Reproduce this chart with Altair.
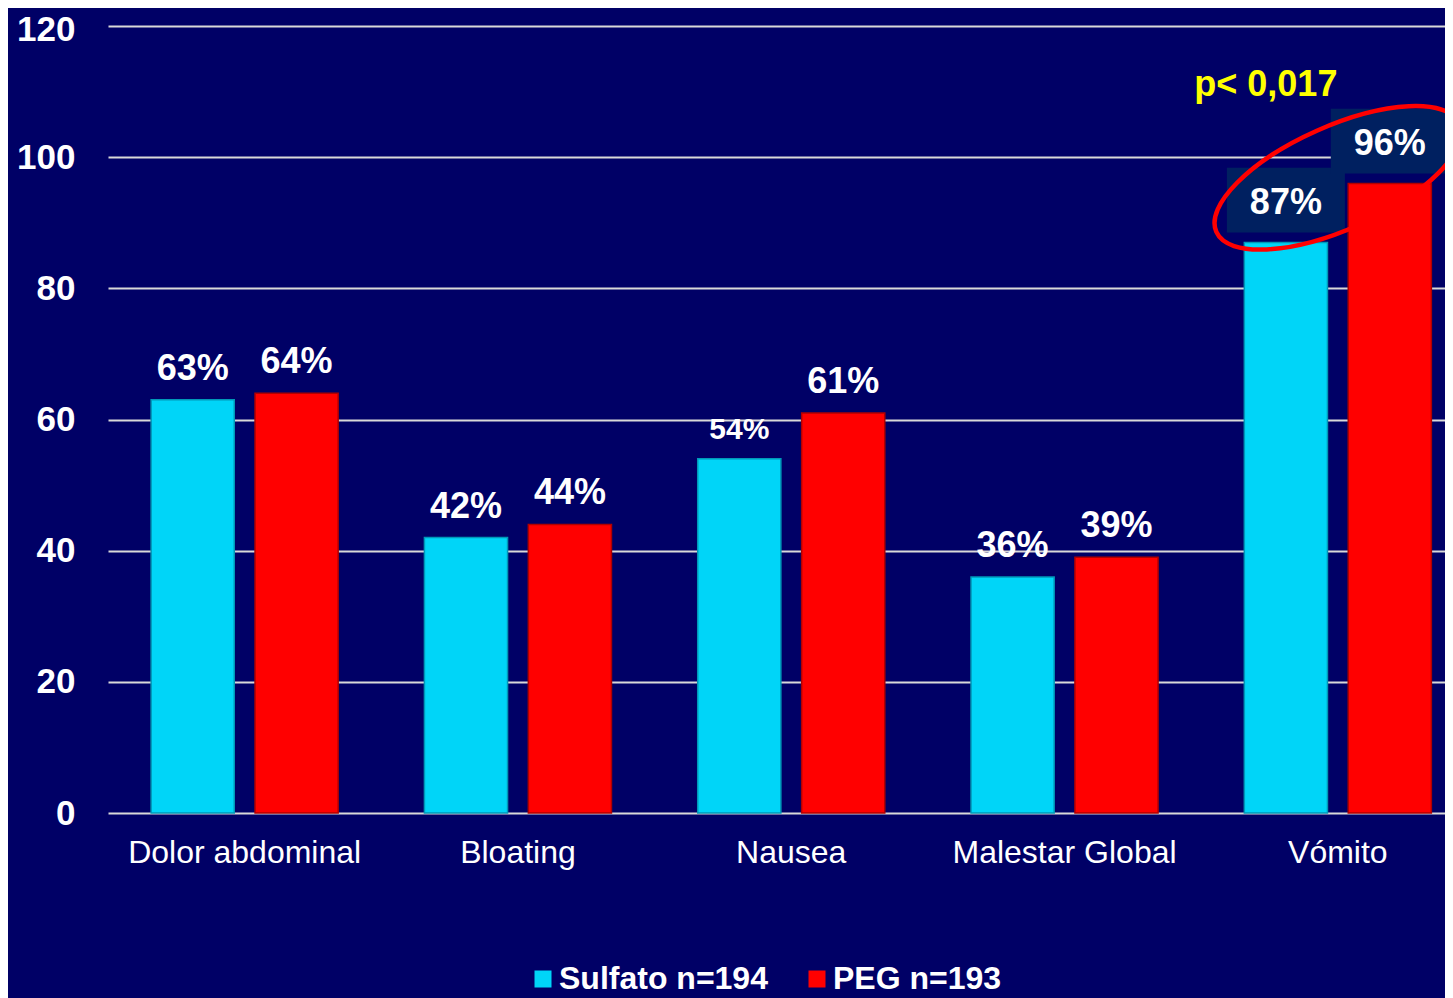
import altair as alt
import pandas as pd

categories = ["Dolor abdominal", "Bloating", "Nausea", "Malestar Global", "Vómito"]
series = ["Sulfato n=194", "PEG n=193"]
sulfato = [63, 42, 54, 36, 87]
peg = [64, 44, 61, 39, 96]
y_ticks = [0, 20, 40, 60, 80, 100, 120]
p_label = "p< 0,017"
highlight_cat = "Vómito"
small_label = ("Nausea", "Sulfato n=194")

rows = []
for c, s, p in zip(categories, sulfato, peg):
    rows.append({"cat": c, "serie": series[0], "value": s})
    rows.append({"cat": c, "serie": series[1], "value": p})
df = pd.DataFrame(rows)
ann = pd.DataFrame({"cat": [highlight_cat], "label": [p_label]})

FONT = "Liberation Sans"
BG = "#000066"
W, H = 1337, 787
GROUP = 273.3

x = alt.X(
    "cat:N",
    sort=categories,
    scale=alt.Scale(domain=categories, range=[0, GROUP * 5], paddingInner=0, paddingOuter=0),
    axis=alt.Axis(
        title=None, labelFontSize=32, labelFont=FONT, labelColor="white", labelAngle=0,
        ticks=False, tickSize=0, domain=False, labelPadding=49, labelBaseline="alphabetic",
        grid=False, labelLimit=0,
    ),
)
xo = alt.XOffset(
    "serie:N", sort=series,
    scale=alt.Scale(domain=series, paddingInner=0.2, paddingOuter=0.415),
)
yscale = alt.Scale(domain=[0, 120], nice=False)
yaxis = alt.Axis(
    values=y_ticks, title=None, labelFontSize=35, labelFontWeight="bold", labelFont=FONT,
    labelColor="white", ticks=False, tickSize=0, domain=False, labelPadding=33,
    labelOffset={"expr": "datum.value == 120 ? 3 : 0"},
    grid=True, gridColor="#D9D9D9", gridWidth=2, gridOpacity=1,
)


def Y(field):
    return alt.Y(field, scale=yscale, axis=yaxis)


color = alt.Color(
    "serie:N", sort=series,
    scale=alt.Scale(domain=series, range=["#00D5F8", "#FF0000"]),
    legend=alt.Legend(
        title=None, orient="none", legendX=419, legendY=937, direction="horizontal",
        symbolType="square", symbolSize=289, symbolStrokeWidth=0, symbolOpacity=1,
        labelFontSize=32, labelFontWeight="bold", labelColor="white", labelFont=FONT,
        columnPadding=33, labelOffset=0, labelLimit=0,
    ),
)
stroke = alt.Stroke(
    "serie:N", sort=series,
    scale=alt.Scale(domain=series, range=["#0098B8", "#B00000"]),
    legend=None,
)

base = alt.Chart(df).transform_calculate(lab="datum.value + '%'")

bars = base.mark_bar(strokeWidth=1.5).encode(
    x=x, xOffset=xo, y=Y("value:Q"), color=color, stroke=stroke
)

labels = base.transform_filter(f"datum.cat != '{highlight_cat}'").mark_text(
    baseline="alphabetic", dy=-20, fontWeight="bold", color="white", font=FONT
).encode(
    x=x, xOffset=xo, y=Y("value:Q"), text="lab:N",
    size=alt.condition(
        f"datum.cat == '{small_label[0]}' && datum.serie == '{small_label[1]}'",
        alt.value(30), alt.value(36),
    ),
)

boxes = base.transform_filter(f"datum.cat == '{highlight_cat}'").transform_calculate(
    lo="datum.value + 1.5", hi="datum.value + 11.4"
).mark_bar(width=118, color="#002060").encode(
    x=x, xOffset=xo, y=Y("lo:Q"), y2="hi:Q"
)

vlabels = base.transform_filter(f"datum.cat == '{highlight_cat}'").mark_text(
    baseline="alphabetic", dy=-28, fontWeight="bold", color="white", font=FONT, fontSize=36
).encode(x=x, xOffset=xo, y=Y("value:Q"), text="lab:N")

ellipse_path = "M -1 0 A 1 0.388 0 1 1 1 0 A 1 0.388 0 1 1 -1 0 Z"
ann2 = alt.Chart(ann).transform_calculate(ey="96.85", py="111")
ellipse = ann2.mark_point(
    shape=ellipse_path, size=70756, angle=336, filled=False, color="#FF0000",
    strokeWidth=4.5, opacity=1, dx=-16,
).encode(x=x, y=Y("ey:Q"))

ptext = ann2.mark_text(
    color="#FFFF00", fontSize=36, fontWeight="bold", font=FONT, dx=-72, baseline="middle"
).encode(x=x, y=Y("py:Q"), text="label:N")

chart = alt.layer(bars, boxes, labels, vlabels, ellipse, ptext).properties(
    width=W, height=H,
    autosize=alt.AutoSizeParams(type="none"),
    padding={"left": 100, "top": 18, "right": 0, "bottom": 185},
    background=BG,
).configure_view(stroke=None)

chart.save("out.html", embed_options={"renderer": "svg", "actions": False})
